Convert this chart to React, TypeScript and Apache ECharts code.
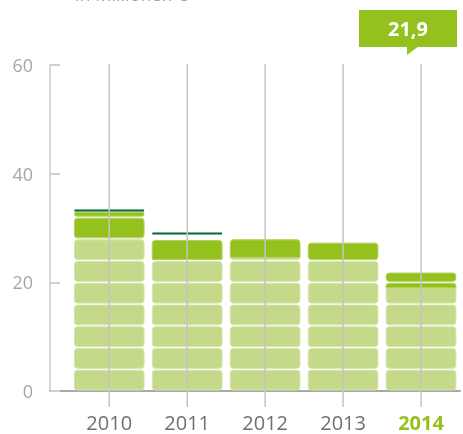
import React, { useEffect, useRef } from "react";
import * as echarts from "echarts";

const years = ["2010", "2011", "2012", "2013", "2014"];
const baseValues = [28, 24.2, 24.6, 24, 19];
const topValues = [5.1, 3.7, 3.4, 3.4, 2.9];
const markerValues: (number | null)[] = [33.2, 29.0, null, null, null];
const yMin = 0;
const yMax = 60;
const yInterval = 20;
const blockSize = 4;
const unitLabel = "in Millionen €";
const highlightIndex = 4;

const LIGHT = "#c5d98a";
const DARK = "#95c11f";
const MARK = "#006633";

export default function App() {
  const ref = useRef<HTMLDivElement>(null);

  useEffect(() => {
    if (!ref.current) return;
    const chart = echarts.init(ref.current, undefined, { renderer: "svg" });

    const totals = baseValues.map((b, i) => b + topValues[i]);
    const calloutText = totals[highlightIndex].toFixed(1).replace(".", ",");

    const barFrac = 0.894;

    const blockRender = (params: any, api: any) => {
      const i = api.value(0);
      const base = api.value(1);
      const top = api.value(2);
      const total = base + top;
      const bandW = api.size([1, 0])[0];
      const w = bandW * barFrac;
      const cx = api.coord([i, 0])[0];
      const x = cx - w / 2;
      const children: any[] = [];
      for (let b = 0; b * blockSize < total - 1e-9; b++) {
        const lo = b * blockSize;
        const hi = Math.min(lo + blockSize, total);
        const yLo = api.coord([i, lo])[1] - 1;
        const yHi = api.coord([i, hi])[1] + 1;
        if (base > lo) {
          children.push({
            type: "rect",
            shape: { x, y: yHi, width: w, height: yLo - yHi, r: 3 },
            style: { fill: LIGHT, stroke: "#d6e5a8", lineWidth: 1 },
          });
        }
        if (hi > base) {
          const dlo = Math.max(lo, base);
          const yd = dlo > lo ? api.coord([i, dlo])[1] : yLo;
          children.push({
            type: "rect",
            shape: {
              x,
              y: yHi,
              width: w,
              height: yd - yHi,
              r: dlo > lo ? [3, 3, 0, 0] : 3,
            },
            style: { fill: DARK, stroke: "#b4d35e", lineWidth: 1 },
          });
        }
      }
      return { type: "group", children };
    };

    const markerRender = (params: any, api: any) => {
      const i = api.value(0);
      const v = api.value(1);
      if (v == null || isNaN(v)) return null;
      const bandW = api.size([1, 0])[0];
      const w = bandW * barFrac;
      const [cx, cy] = api.coord([i, v]);
      return {
        type: "line",
        shape: { x1: cx - w / 2, y1: cy, x2: cx + w / 2, y2: cy },
        style: { stroke: MARK, lineWidth: 2 },
      };
    };

    const gridLineRender = (params: any, api: any) => {
      const i = api.value(0);
      const [cx, yTop] = api.coord([i, yMax]);
      const yBot = api.coord([i, yMin])[1];
      return {
        type: "line",
        shape: { x1: cx, y1: yTop - 1, x2: cx, y2: yBot + 16 },
        style: { stroke: "#c4c4c4", lineWidth: 1.5 },
      };
    };

    chart.setOption({
      animation: false,
      grid: { left: 50, right: 1, top: 65, bottom: 43 },
      textStyle: { fontFamily: "Open Sans" },
      xAxis: {
        type: "value",
        min: -0.76,
        max: 4.5,
        splitLine: { show: false },
        axisTick: { show: false },
        axisLine: { show: true, onZero: false, lineStyle: { color: "#a8a8a8", width: 2 } },
        axisLabel: {
          margin: 21,
          fontSize: 20,
          lineHeight: 20,
          color: "#707070",
          fontFamily: "Open Sans",
          formatter: (v: number) => {
            const r = Math.round(v);
            if (Math.abs(v - r) > 1e-6 || r < 0 || r >= years.length) return "";
            return r === highlightIndex ? `{hi|${years[r]}}` : years[r];
          },
          rich: {
            hi: {
              fontSize: 20,
              lineHeight: 20,
              fontWeight: "bold",
              color: DARK,
              fontFamily: "Open Sans",
            },
          },
        },
      },
      yAxis: {
        type: "value",
        min: yMin,
        max: yMax,
        interval: yInterval,
        splitLine: { show: false },
        axisLine: { show: true, onZero: false, lineStyle: { color: "#d8d8d8", width: 2 } },
        axisTick: {
          show: true,
          inside: true,
          length: 10,
          lineStyle: { color: "#d0d0d0", width: 2 },
        },
        axisLabel: {
          margin: 17,
          fontSize: 18,
          color: "#a6a6a6",
          fontFamily: "Open Sans",
        },
      },
      series: [
        {
          type: "custom",
          name: "Umsatz",
          renderItem: blockRender,
          data: years.map((y, i) => [i, baseValues[i], topValues[i]]),
          z: 2,
        },
        {
          type: "custom",
          name: "Vorjahr",
          renderItem: markerRender,
          data: markerValues
            .map((v, i) => [i, v])
            .filter((d) => d[1] != null),
          z: 3,
        },
        {
          type: "custom",
          name: "grid",
          renderItem: gridLineRender,
          data: years.map((y, i) => [i]),
          z: 4,
          silent: true,
        },
      ],
      graphic: [
        {
          type: "text",
          left: 75,
          top: -15,
          style: {
            text: unitLabel,
            fontSize: 18,
            fill: "#a0a0a0",
            fontFamily: "Open Sans",
          },
        },
        {
          type: "group",
          left: 359,
          top: 10,
          children: [
            {
              type: "rect",
              shape: { x: 0, y: 0, width: 98, height: 37 },
              style: { fill: DARK },
            },
            {
              type: "polygon",
              shape: { points: [[48, 36], [48, 45], [60, 36]] },
              style: { fill: DARK },
            },
            {
              type: "text",
              x: 49,
              y: 18.5,
              style: {
                text: calloutText,
                fontSize: 20,
                fontWeight: "bold",
                fill: "#ffffff",
                align: "center",
                verticalAlign: "middle",
                fontFamily: "Open Sans",
              },
            },
          ],
        },
      ],
    });

    return () => chart.dispose();
  }, []);

  return (
    <div
      ref={ref}
      style={{ position: "fixed", left: 0, top: 0, width: 463, height: 434 }}
    />
  );
}
